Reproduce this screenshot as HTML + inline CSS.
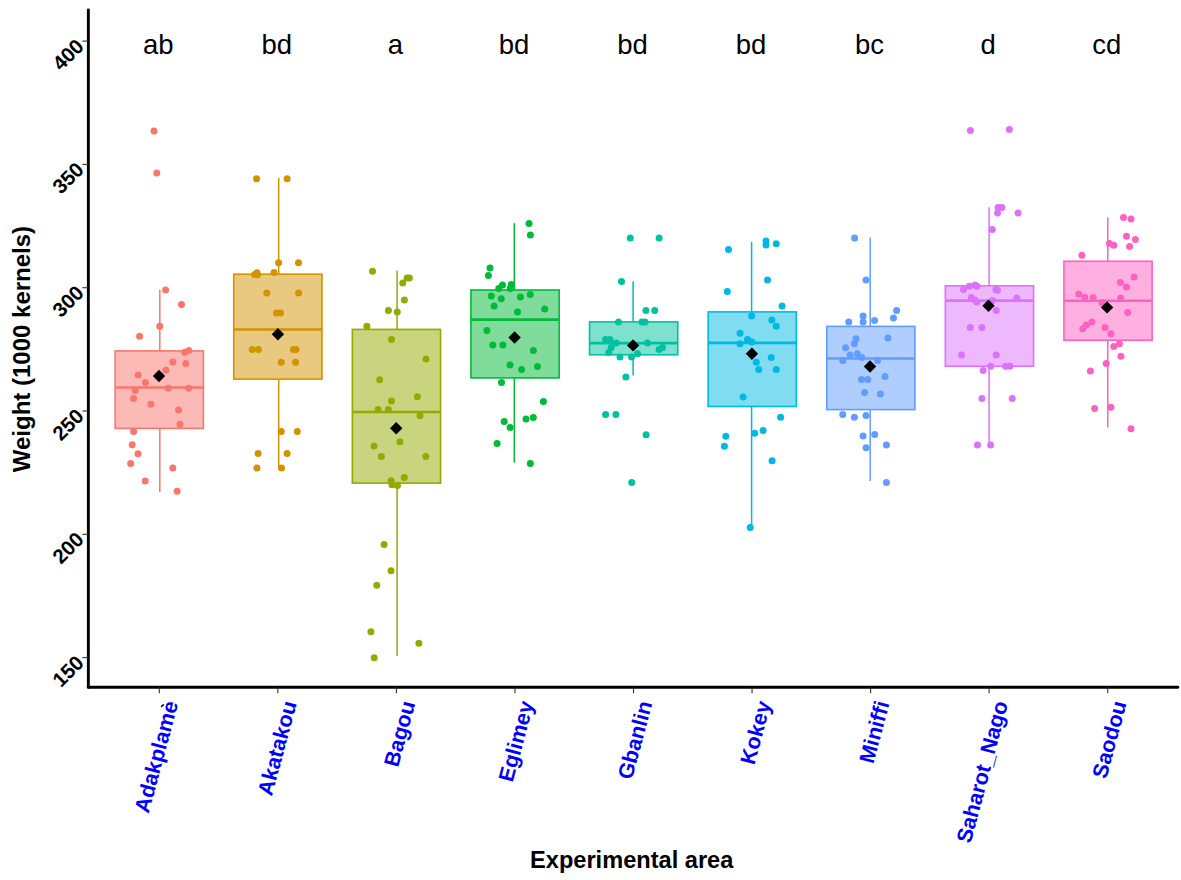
<!DOCTYPE html>
<html><head><meta charset="utf-8"><title>Boxplot</title>
<style>
html,body{margin:0;padding:0;background:#fff;width:1181px;height:880px;overflow:hidden;}
svg{display:block;}
text{font-family:"Liberation Sans", sans-serif;}
</style></head><body>
<svg width="1181" height="880" viewBox="0 0 1181 880">
<rect x="0" y="0" width="1181" height="880" fill="#fff"/>
<g stroke="#F8766D" stroke-width="1.6" fill="none"><line x1="159.80" y1="289.75" x2="159.80" y2="350.90" stroke-width="1.5"/><line x1="159.80" y1="428.40" x2="159.80" y2="491.90" stroke-width="1.5"/><rect x="115.15" y="350.90" width="88.20" height="77.50" fill="#F8766D" fill-opacity="0.5"/><line x1="115.15" y1="387.50" x2="203.35" y2="387.50" stroke-width="2.6"/></g>
<g stroke="#D39200" stroke-width="1.6" fill="none"><line x1="278.70" y1="178.10" x2="278.70" y2="274.20" stroke-width="1.5"/><line x1="278.70" y1="379.10" x2="278.70" y2="468.10" stroke-width="1.5"/><rect x="233.75" y="274.20" width="88.20" height="104.90" fill="#D39200" fill-opacity="0.5"/><line x1="233.75" y1="329.50" x2="321.95" y2="329.50" stroke-width="2.6"/></g>
<g stroke="#93AA00" stroke-width="1.6" fill="none"><line x1="397.10" y1="270.60" x2="397.10" y2="329.40" stroke-width="1.5"/><line x1="397.10" y1="483.10" x2="397.10" y2="656.10" stroke-width="1.5"/><rect x="352.35" y="329.40" width="88.20" height="153.70" fill="#93AA00" fill-opacity="0.5"/><line x1="352.35" y1="412.00" x2="440.55" y2="412.00" stroke-width="2.6"/></g>
<g stroke="#00BA38" stroke-width="1.6" fill="none"><line x1="514.30" y1="223.10" x2="514.30" y2="290.00" stroke-width="1.5"/><line x1="514.30" y1="377.90" x2="514.30" y2="462.60" stroke-width="1.5"/><rect x="470.95" y="290.00" width="88.20" height="87.90" fill="#00BA38" fill-opacity="0.5"/><line x1="470.95" y1="319.60" x2="559.15" y2="319.60" stroke-width="2.6"/></g>
<g stroke="#00C19F" stroke-width="1.6" fill="none"><line x1="633.10" y1="281.25" x2="633.10" y2="321.90" stroke-width="1.5"/><line x1="633.10" y1="354.75" x2="633.10" y2="375.60" stroke-width="1.5"/><rect x="589.55" y="321.90" width="88.20" height="32.85" fill="#00C19F" fill-opacity="0.5"/><line x1="589.55" y1="343.10" x2="677.75" y2="343.10" stroke-width="2.6"/></g>
<g stroke="#00B9E3" stroke-width="1.6" fill="none"><line x1="751.60" y1="241.90" x2="751.60" y2="311.90" stroke-width="1.5"/><line x1="751.60" y1="406.50" x2="751.60" y2="526.70" stroke-width="1.5"/><rect x="708.15" y="311.90" width="88.20" height="94.60" fill="#00B9E3" fill-opacity="0.5"/><line x1="708.15" y1="342.90" x2="796.35" y2="342.90" stroke-width="2.6"/></g>
<g stroke="#619CFF" stroke-width="1.6" fill="none"><line x1="870.20" y1="237.50" x2="870.20" y2="326.40" stroke-width="1.5"/><line x1="870.20" y1="409.60" x2="870.20" y2="480.90" stroke-width="1.5"/><rect x="826.75" y="326.40" width="88.20" height="83.20" fill="#619CFF" fill-opacity="0.5"/><line x1="826.75" y1="358.50" x2="914.95" y2="358.50" stroke-width="2.6"/></g>
<g stroke="#DB72FB" stroke-width="1.6" fill="none"><line x1="989.10" y1="207.25" x2="989.10" y2="285.80" stroke-width="1.5"/><line x1="989.10" y1="366.25" x2="989.10" y2="445.00" stroke-width="1.5"/><rect x="945.35" y="285.80" width="88.20" height="80.45" fill="#DB72FB" fill-opacity="0.5"/><line x1="945.35" y1="300.60" x2="1033.55" y2="300.60" stroke-width="2.6"/></g>
<g stroke="#FF61C3" stroke-width="1.6" fill="none"><line x1="1107.75" y1="217.50" x2="1107.75" y2="261.25" stroke-width="1.5"/><line x1="1107.75" y1="340.25" x2="1107.75" y2="427.50" stroke-width="1.5"/><rect x="1063.95" y="261.25" width="88.20" height="79.00" fill="#FF61C3" fill-opacity="0.5"/><line x1="1063.95" y1="300.75" x2="1152.15" y2="300.75" stroke-width="2.6"/></g>
<g fill="#F8766D" fill-opacity="1.0"><circle cx="153.96" cy="130.90" r="3.5"/><circle cx="156.80" cy="173.00" r="3.5"/><circle cx="165.60" cy="290.00" r="3.5"/><circle cx="181.50" cy="304.60" r="3.5"/><circle cx="159.75" cy="326.25" r="3.5"/><circle cx="139.60" cy="336.25" r="3.5"/><circle cx="184.75" cy="352.25" r="3.5"/><circle cx="188.75" cy="350.60" r="3.5"/><circle cx="172.90" cy="362.10" r="3.5"/><circle cx="185.75" cy="363.50" r="3.5"/><circle cx="165.90" cy="370.25" r="3.5"/><circle cx="138.10" cy="375.00" r="3.5"/><circle cx="145.40" cy="382.50" r="3.5"/><circle cx="168.40" cy="388.20" r="3.5"/><circle cx="188.70" cy="388.20" r="3.5"/><circle cx="135.20" cy="390.60" r="3.5"/><circle cx="133.60" cy="398.40" r="3.5"/><circle cx="150.90" cy="404.30" r="3.5"/><circle cx="178.50" cy="410.00" r="3.5"/><circle cx="180.00" cy="424.30" r="3.5"/><circle cx="133.60" cy="431.60" r="3.5"/><circle cx="132.20" cy="444.80" r="3.5"/><circle cx="138.00" cy="453.70" r="3.5"/><circle cx="130.70" cy="463.50" r="3.5"/><circle cx="172.80" cy="468.00" r="3.5"/><circle cx="145.20" cy="481.00" r="3.5"/><circle cx="177.10" cy="491.20" r="3.5"/></g>
<g fill="#D39200" fill-opacity="1.0"><circle cx="256.60" cy="178.80" r="3.5"/><circle cx="287.10" cy="178.80" r="3.5"/><circle cx="278.60" cy="262.80" r="3.5"/><circle cx="298.50" cy="262.80" r="3.5"/><circle cx="257.00" cy="272.80" r="3.5"/><circle cx="254.60" cy="274.60" r="3.5"/><circle cx="257.50" cy="274.80" r="3.5"/><circle cx="274.00" cy="272.60" r="3.5"/><circle cx="266.80" cy="292.90" r="3.5"/><circle cx="298.60" cy="292.90" r="3.5"/><circle cx="276.50" cy="313.00" r="3.5"/><circle cx="280.50" cy="313.00" r="3.5"/><circle cx="252.30" cy="349.50" r="3.5"/><circle cx="258.40" cy="349.50" r="3.5"/><circle cx="293.50" cy="349.50" r="3.5"/><circle cx="296.00" cy="349.50" r="3.5"/><circle cx="281.20" cy="362.20" r="3.5"/><circle cx="295.60" cy="362.20" r="3.5"/><circle cx="281.25" cy="431.60" r="3.5"/><circle cx="297.25" cy="431.60" r="3.5"/><circle cx="258.10" cy="453.40" r="3.5"/><circle cx="287.10" cy="453.40" r="3.5"/><circle cx="256.90" cy="468.10" r="3.5"/><circle cx="281.50" cy="468.10" r="3.5"/></g>
<g fill="#93AA00" fill-opacity="1.0"><circle cx="372.50" cy="271.25" r="3.5"/><circle cx="407.10" cy="278.10" r="3.5"/><circle cx="409.40" cy="278.10" r="3.5"/><circle cx="402.75" cy="283.10" r="3.5"/><circle cx="404.40" cy="300.00" r="3.5"/><circle cx="388.40" cy="310.40" r="3.5"/><circle cx="397.25" cy="311.90" r="3.5"/><circle cx="366.90" cy="326.25" r="3.5"/><circle cx="391.50" cy="339.40" r="3.5"/><circle cx="426.00" cy="359.10" r="3.5"/><circle cx="379.70" cy="379.70" r="3.5"/><circle cx="417.40" cy="396.80" r="3.5"/><circle cx="391.50" cy="401.10" r="3.5"/><circle cx="378.10" cy="409.60" r="3.5"/><circle cx="388.30" cy="409.60" r="3.5"/><circle cx="420.10" cy="415.80" r="3.5"/><circle cx="399.90" cy="441.70" r="3.5"/><circle cx="374.00" cy="446.00" r="3.5"/><circle cx="381.30" cy="456.40" r="3.5"/><circle cx="425.80" cy="456.40" r="3.5"/><circle cx="404.30" cy="477.50" r="3.5"/><circle cx="391.10" cy="480.70" r="3.5"/><circle cx="392.00" cy="484.70" r="3.5"/><circle cx="397.50" cy="485.50" r="3.5"/><circle cx="384.10" cy="544.40" r="3.5"/><circle cx="391.00" cy="570.80" r="3.5"/><circle cx="376.80" cy="585.30" r="3.5"/><circle cx="370.90" cy="631.70" r="3.5"/><circle cx="418.90" cy="643.20" r="3.5"/><circle cx="374.20" cy="657.70" r="3.5"/></g>
<g fill="#00BA38" fill-opacity="1.0"><circle cx="529.00" cy="223.50" r="3.5"/><circle cx="530.40" cy="235.00" r="3.5"/><circle cx="490.00" cy="268.10" r="3.5"/><circle cx="488.40" cy="275.60" r="3.5"/><circle cx="502.50" cy="285.00" r="3.5"/><circle cx="498.75" cy="288.50" r="3.5"/><circle cx="511.25" cy="284.40" r="3.5"/><circle cx="510.25" cy="288.50" r="3.5"/><circle cx="491.25" cy="296.00" r="3.5"/><circle cx="501.25" cy="298.75" r="3.5"/><circle cx="520.40" cy="297.10" r="3.5"/><circle cx="530.25" cy="294.40" r="3.5"/><circle cx="494.10" cy="306.00" r="3.5"/><circle cx="517.50" cy="311.90" r="3.5"/><circle cx="544.75" cy="309.10" r="3.5"/><circle cx="486.90" cy="330.60" r="3.5"/><circle cx="492.75" cy="345.00" r="3.5"/><circle cx="502.90" cy="345.00" r="3.5"/><circle cx="533.40" cy="350.60" r="3.5"/><circle cx="510.00" cy="365.00" r="3.5"/><circle cx="521.60" cy="369.40" r="3.5"/><circle cx="537.50" cy="366.60" r="3.5"/><circle cx="501.50" cy="382.50" r="3.5"/><circle cx="543.40" cy="401.40" r="3.5"/><circle cx="504.20" cy="421.40" r="3.5"/><circle cx="510.10" cy="427.50" r="3.5"/><circle cx="526.00" cy="418.90" r="3.5"/><circle cx="533.30" cy="417.40" r="3.5"/><circle cx="497.10" cy="443.40" r="3.5"/><circle cx="530.30" cy="463.40" r="3.5"/></g>
<g fill="#00C19F" fill-opacity="1.0"><circle cx="630.25" cy="237.90" r="3.5"/><circle cx="659.10" cy="237.90" r="3.5"/><circle cx="621.50" cy="281.50" r="3.5"/><circle cx="645.90" cy="310.40" r="3.5"/><circle cx="654.75" cy="310.40" r="3.5"/><circle cx="618.50" cy="321.90" r="3.5"/><circle cx="641.90" cy="321.90" r="3.5"/><circle cx="645.00" cy="321.90" r="3.5"/><circle cx="605.60" cy="339.40" r="3.5"/><circle cx="610.00" cy="339.40" r="3.5"/><circle cx="616.25" cy="343.10" r="3.5"/><circle cx="611.25" cy="347.50" r="3.5"/><circle cx="608.75" cy="352.50" r="3.5"/><circle cx="647.50" cy="343.10" r="3.5"/><circle cx="662.50" cy="347.50" r="3.5"/><circle cx="659.10" cy="349.40" r="3.5"/><circle cx="620.00" cy="356.90" r="3.5"/><circle cx="631.50" cy="356.90" r="3.5"/><circle cx="637.50" cy="353.75" r="3.5"/><circle cx="625.90" cy="376.90" r="3.5"/><circle cx="605.60" cy="414.40" r="3.5"/><circle cx="615.90" cy="414.40" r="3.5"/><circle cx="646.10" cy="434.70" r="3.5"/><circle cx="631.70" cy="482.40" r="3.5"/></g>
<g fill="#00B9E3" fill-opacity="1.0"><circle cx="728.50" cy="249.60" r="3.5"/><circle cx="766.00" cy="241.00" r="3.5"/><circle cx="766.00" cy="245.00" r="3.5"/><circle cx="776.25" cy="243.75" r="3.5"/><circle cx="767.50" cy="280.00" r="3.5"/><circle cx="727.25" cy="291.50" r="3.5"/><circle cx="782.10" cy="305.90" r="3.5"/><circle cx="751.60" cy="315.90" r="3.5"/><circle cx="771.90" cy="320.00" r="3.5"/><circle cx="776.25" cy="326.25" r="3.5"/><circle cx="740.10" cy="333.30" r="3.5"/><circle cx="747.50" cy="339.50" r="3.5"/><circle cx="751.90" cy="341.90" r="3.5"/><circle cx="740.00" cy="343.75" r="3.5"/><circle cx="771.25" cy="357.50" r="3.5"/><circle cx="756.25" cy="362.25" r="3.5"/><circle cx="758.75" cy="369.40" r="3.5"/><circle cx="776.25" cy="369.40" r="3.5"/><circle cx="743.10" cy="396.90" r="3.5"/><circle cx="780.60" cy="417.20" r="3.5"/><circle cx="763.10" cy="430.50" r="3.5"/><circle cx="725.80" cy="436.30" r="3.5"/><circle cx="724.40" cy="446.20" r="3.5"/><circle cx="754.70" cy="433.20" r="3.5"/><circle cx="772.10" cy="460.70" r="3.5"/><circle cx="750.20" cy="527.40" r="3.5"/></g>
<g fill="#619CFF" fill-opacity="1.0"><circle cx="854.60" cy="237.90" r="3.5"/><circle cx="866.00" cy="280.00" r="3.5"/><circle cx="863.10" cy="316.00" r="3.5"/><circle cx="863.10" cy="321.90" r="3.5"/><circle cx="848.75" cy="321.90" r="3.5"/><circle cx="874.60" cy="320.60" r="3.5"/><circle cx="896.60" cy="310.40" r="3.5"/><circle cx="893.50" cy="317.90" r="3.5"/><circle cx="887.90" cy="337.90" r="3.5"/><circle cx="856.00" cy="338.75" r="3.5"/><circle cx="854.40" cy="343.75" r="3.5"/><circle cx="845.60" cy="347.75" r="3.5"/><circle cx="850.00" cy="355.00" r="3.5"/><circle cx="857.25" cy="353.75" r="3.5"/><circle cx="861.90" cy="357.50" r="3.5"/><circle cx="842.75" cy="360.60" r="3.5"/><circle cx="877.50" cy="360.60" r="3.5"/><circle cx="885.00" cy="376.50" r="3.5"/><circle cx="861.50" cy="379.60" r="3.5"/><circle cx="867.75" cy="379.60" r="3.5"/><circle cx="864.60" cy="392.50" r="3.5"/><circle cx="880.40" cy="394.00" r="3.5"/><circle cx="842.75" cy="414.40" r="3.5"/><circle cx="854.40" cy="417.25" r="3.5"/><circle cx="866.00" cy="415.60" r="3.5"/><circle cx="863.10" cy="436.10" r="3.5"/><circle cx="874.70" cy="434.40" r="3.5"/><circle cx="866.10" cy="447.70" r="3.5"/><circle cx="886.40" cy="445.10" r="3.5"/><circle cx="886.40" cy="482.40" r="3.5"/></g>
<g fill="#DB72FB" fill-opacity="1.0"><circle cx="970.40" cy="130.60" r="3.5"/><circle cx="1009.40" cy="129.40" r="3.5"/><circle cx="998.10" cy="207.50" r="3.5"/><circle cx="1001.90" cy="207.50" r="3.5"/><circle cx="997.50" cy="213.10" r="3.5"/><circle cx="1018.10" cy="213.10" r="3.5"/><circle cx="992.25" cy="229.40" r="3.5"/><circle cx="975.00" cy="285.00" r="3.5"/><circle cx="969.40" cy="286.25" r="3.5"/><circle cx="963.50" cy="289.40" r="3.5"/><circle cx="976.90" cy="286.25" r="3.5"/><circle cx="995.90" cy="289.40" r="3.5"/><circle cx="997.50" cy="290.25" r="3.5"/><circle cx="971.25" cy="297.50" r="3.5"/><circle cx="974.75" cy="300.00" r="3.5"/><circle cx="976.90" cy="301.90" r="3.5"/><circle cx="1016.90" cy="298.10" r="3.5"/><circle cx="992.50" cy="300.60" r="3.5"/><circle cx="996.25" cy="310.60" r="3.5"/><circle cx="970.25" cy="327.50" r="3.5"/><circle cx="981.90" cy="327.50" r="3.5"/><circle cx="961.60" cy="355.00" r="3.5"/><circle cx="996.25" cy="355.00" r="3.5"/><circle cx="990.60" cy="366.25" r="3.5"/><circle cx="1005.60" cy="366.25" r="3.5"/><circle cx="1010.00" cy="366.25" r="3.5"/><circle cx="983.10" cy="370.60" r="3.5"/><circle cx="981.90" cy="398.50" r="3.5"/><circle cx="1012.25" cy="398.50" r="3.5"/><circle cx="977.50" cy="445.00" r="3.5"/><circle cx="990.60" cy="445.00" r="3.5"/></g>
<g fill="#FF61C3" fill-opacity="1.0"><circle cx="1123.50" cy="217.50" r="3.5"/><circle cx="1131.00" cy="219.10" r="3.5"/><circle cx="1126.50" cy="236.25" r="3.5"/><circle cx="1135.40" cy="239.40" r="3.5"/><circle cx="1129.60" cy="246.60" r="3.5"/><circle cx="1109.40" cy="243.40" r="3.5"/><circle cx="1113.75" cy="245.25" r="3.5"/><circle cx="1081.90" cy="255.25" r="3.5"/><circle cx="1134.00" cy="276.90" r="3.5"/><circle cx="1120.40" cy="282.50" r="3.5"/><circle cx="1126.50" cy="287.10" r="3.5"/><circle cx="1078.75" cy="294.10" r="3.5"/><circle cx="1084.75" cy="297.25" r="3.5"/><circle cx="1093.10" cy="297.50" r="3.5"/><circle cx="1120.60" cy="298.10" r="3.5"/><circle cx="1101.90" cy="302.75" r="3.5"/><circle cx="1127.75" cy="312.50" r="3.5"/><circle cx="1091.90" cy="321.90" r="3.5"/><circle cx="1086.25" cy="325.00" r="3.5"/><circle cx="1082.75" cy="328.75" r="3.5"/><circle cx="1105.00" cy="327.50" r="3.5"/><circle cx="1110.90" cy="333.75" r="3.5"/><circle cx="1119.40" cy="343.75" r="3.5"/><circle cx="1113.75" cy="346.50" r="3.5"/><circle cx="1120.90" cy="356.25" r="3.5"/><circle cx="1106.25" cy="363.50" r="3.5"/><circle cx="1090.40" cy="371.00" r="3.5"/><circle cx="1094.60" cy="408.40" r="3.5"/><circle cx="1110.90" cy="407.25" r="3.5"/><circle cx="1131.00" cy="428.75" r="3.5"/></g>
<g fill="#000"><path d="M159.00 369.80L165.20 376.00L159.00 382.20L152.80 376.00Z"/><path d="M277.90 328.00L284.10 334.20L277.90 340.40L271.70 334.20Z"/><path d="M396.20 422.00L402.40 428.20L396.20 434.40L390.00 428.20Z"/><path d="M514.60 331.30L520.80 337.50L514.60 343.70L508.40 337.50Z"/><path d="M633.10 339.20L639.30 345.40L633.10 351.60L626.90 345.40Z"/><path d="M751.90 347.55L758.10 353.75L751.90 359.95L745.70 353.75Z"/><path d="M870.00 360.30L876.20 366.50L870.00 372.70L863.80 366.50Z"/><path d="M988.50 299.60L994.70 305.80L988.50 312.00L982.30 305.80Z"/><path d="M1107.10 301.20L1113.30 307.40L1107.10 313.60L1100.90 307.40Z"/></g>
<g font-size="27.5" fill="#000" text-anchor="middle"><text x="158.30" y="53.6">ab</text><text x="276.85" y="53.6">bd</text><text x="395.40" y="53.6">a</text><text x="513.95" y="53.6">bd</text><text x="632.50" y="53.6">bd</text><text x="751.05" y="53.6">bd</text><text x="869.60" y="53.6">bc</text><text x="988.15" y="53.6">d</text><text x="1106.70" y="53.6">cd</text></g>
<g stroke="#000" stroke-width="2.9" stroke-linecap="round" fill="none"><line x1="88.35" y1="10.0" x2="88.35" y2="687.3"/><line x1="88.35" y1="687.3" x2="1177.8" y2="687.3"/></g>
<g stroke="#333" stroke-width="1.1"><line x1="82.35" y1="657.60" x2="88.35" y2="657.60"/><line x1="82.35" y1="534.30" x2="88.35" y2="534.30"/><line x1="82.35" y1="411.00" x2="88.35" y2="411.00"/><line x1="82.35" y1="287.70" x2="88.35" y2="287.70"/><line x1="82.35" y1="164.40" x2="88.35" y2="164.40"/><line x1="82.35" y1="41.10" x2="88.35" y2="41.10"/><line x1="159.30" y1="687.3" x2="159.30" y2="693.30"/><line x1="277.85" y1="687.3" x2="277.85" y2="693.30"/><line x1="396.40" y1="687.3" x2="396.40" y2="693.30"/><line x1="514.95" y1="687.3" x2="514.95" y2="693.30"/><line x1="633.50" y1="687.3" x2="633.50" y2="693.30"/><line x1="752.05" y1="687.3" x2="752.05" y2="693.30"/><line x1="870.60" y1="687.3" x2="870.60" y2="693.30"/><line x1="989.15" y1="687.3" x2="989.15" y2="693.30"/><line x1="1107.70" y1="687.3" x2="1107.70" y2="693.30"/></g>
<g font-size="20.5" font-weight="bold" fill="#000" text-anchor="end"><text transform="translate(85.10,664.10) rotate(-45)">150</text><text transform="translate(85.10,540.80) rotate(-45)">200</text><text transform="translate(85.10,417.50) rotate(-45)">250</text><text transform="translate(85.10,294.20) rotate(-45)">300</text><text transform="translate(85.10,170.90) rotate(-45)">350</text><text transform="translate(85.10,47.60) rotate(-45)">400</text></g>
<g font-size="21.5" font-weight="bold" fill="#0000FF" text-anchor="end"><text transform="translate(178.30,703.30) rotate(-75)">Adakplame</text><text transform="translate(296.85,703.30) rotate(-75)">Akatakou</text><text transform="translate(415.40,703.30) rotate(-75)">Bagou</text><text transform="translate(533.95,703.30) rotate(-75)">Eglimey</text><text transform="translate(652.50,703.30) rotate(-75)">Gbanlin</text><text transform="translate(771.05,703.30) rotate(-75)">Kokey</text><text transform="translate(889.60,703.30) rotate(-75)">Miniffi</text><text transform="translate(1008.15,703.30) rotate(-75)">Saharot_Nago</text><text transform="translate(1126.70,703.30) rotate(-75)">Saodou</text></g>
<path d="M161.5 706.4L163.4 704.9" stroke="#000" stroke-width="1.5" stroke-linecap="round" fill="none"/>
<text font-size="24" font-weight="bold" fill="#000" text-anchor="middle" transform="translate(30.3,349.05) rotate(-90)">Weight (1000 kernels)</text>
<text font-size="23.6" font-weight="bold" fill="#000" text-anchor="middle" x="631.7" y="868.4">Experimental area</text>
</svg>
</body></html>
